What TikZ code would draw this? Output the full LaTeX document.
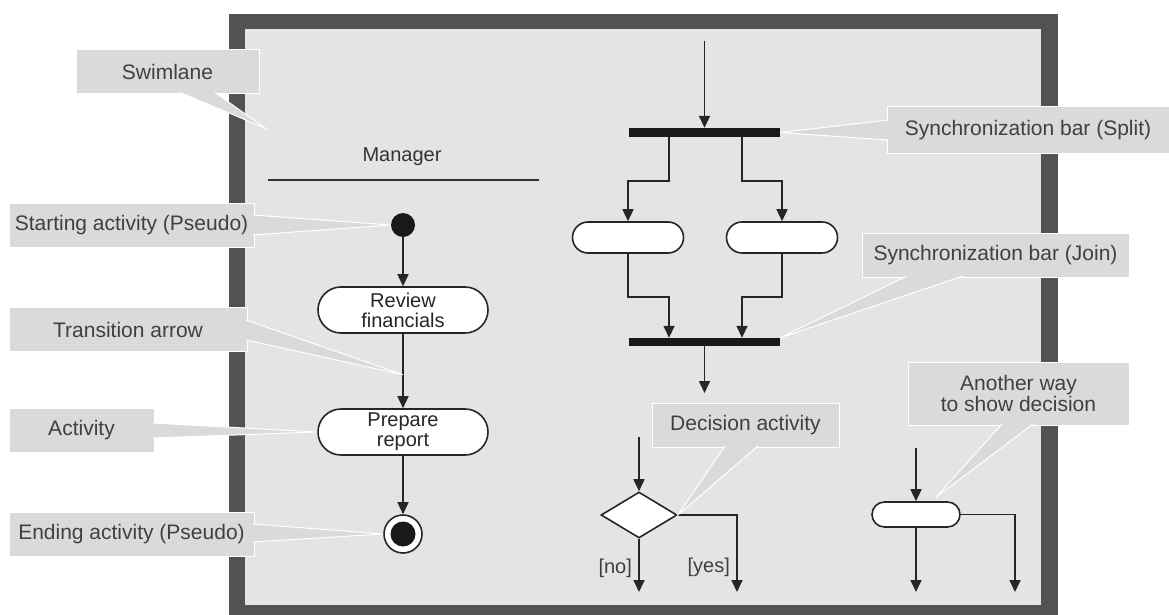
\documentclass[tikz,border=0pt]{standalone}
\usepackage{fontspec}
\setmainfont{Liberation Sans}
\usetikzlibrary{arrows.meta, shapes.misc, shapes.geometric, calc}
\definecolor{myframe}{RGB}{82,82,82}
\definecolor{mylane}{RGB}{228,228,228}
\definecolor{mycallout}{RGB}{218,218,218}
\definecolor{mylabel}{RGB}{64,64,64}
\newcommand{\heightcallout}{44pt}
\newcommand{\widthactivity}{170pt}
\newcommand{\pointer}[3]{\path[pointer] (#1) -- (#2) -- (#3);}
\tikzset{
    common/.style={draw=black!85, line width=1.6pt, fill=white},
    activity/.style={common, rounded rectangle, minimum width=\widthactivity, minimum height=46pt, align=center, inner sep=0pt, text=black!85},
    small/.style={common, rounded rectangle, inner sep=0pt},
    final/.style={
        common, circle, minimum size=38pt, inner sep=0pt,
        path picture={
            \fill[black!90] (path picture bounding box.center) circle (12.5pt);
        }
    },
    decision/.style={common, diamond, minimum width=76pt, minimum height=46pt, inner sep=0pt},
    bar/.style={fill=black!90, inner sep=0pt, minimum width=151pt, minimum height=9pt},
    flow/.style={draw=black!85, line width=1.6pt, -{Triangle[length=12pt, width=11pt]}},
    callout/.style={fill=mycallout, draw=white, line width=1pt, outer sep=0pt, text=mylabel, minimum height=\heightcallout, align=center, inner sep=0pt, font={\fontsize{21}{21}\selectfont}},
    pointer/.style={fill=mycallout, draw=white, line width=1pt}
}
\begin{document}
\begin{tikzpicture}[x=1pt, y=-1pt, font={\fontsize{20}{20}\selectfont}]
    \useasboundingbox (0,0) rectangle (1169,615);
    % swimlane frame
    \fill[myframe] (229,14) rectangle (1058,615);
    \fill[mylane] (245,29) rectangle (1041,605);
    \node[text=black!80] (manager) at (402,157) {Manager};
    \draw[black!80, line width=1.5pt] (268,180) -- (539,180);

    % manager column
    \node[circle, fill=black!90, minimum size=24pt, inner sep=0pt] (start) at (403,225) {};
    \node[activity] (review) at (403,310) {Review\\financials};
    \node[activity] (prepare) at (403,432) {Prepare\\report};
    \node[final] (end) at (403,534) {};
    \draw[flow] (start) -- (review);
    \draw[flow] (review) -- (prepare);
    \draw[flow] (prepare) -- (end);

    % split and join
    \coordinate (splitin) at (704.5,41);
    \node[bar] (split) at (704.5,132.5) {};
    \node[small, minimum width=111pt, minimum height=31pt] (left) at (628,237.5) {};
    \node[small, minimum width=111pt, minimum height=31pt] (right) at (782,237.5) {};
    \node[bar, minimum height=8pt] (join) at (704.5,342) {};
    \coordinate (joinout) at (704.5,393);
    \draw[flow] (splitin) -- (split);
    \draw[flow] ([xshift=-35.5pt]split.south) -- ++(0,44) -| (left.north);
    \draw[flow] ([xshift=37.5pt]split.south) -- ++(0,44) -| (right.north);
    \draw[flow] (left.south) -- ++(0,43) -| ([xshift=-35.5pt]join.north);
    \draw[flow] (right.south) -- ++(0,43) -| ([xshift=37.5pt]join.north);
    \draw[flow] (join) -- (joinout);

    % decision
    \coordinate (decin) at (639,437);
    \node[decision] (dec) at (639,515) {};
    \coordinate (decno) at (639,592);
    \coordinate (decyes) at (737,592);
    \draw[flow] (decin) -- (dec);
    \draw[flow] (dec) -- (decno) node[pos=0.55, left=3pt, text=mylabel] {[no]};
    \draw[flow] (dec.east) -| (decyes) node[pos=0.84, left=3pt, text=mylabel] {[yes]};

    % other decision
    \coordinate (altin) at (916,448);
    \node[small, minimum width=88pt, minimum height=25pt] (alt) at (916,514.5) {};
    \coordinate (altdown) at (916,592);
    \coordinate (altright) at (1015,592);
    \draw[flow] (altin) -- (alt);
    \draw[flow] (alt) -- (altdown);
    \draw[flow] (alt.east) -| (altright);

    % callouts
    \coordinate (lanetip) at (265,128);
    \coordinate (transtip) at ($(review.south)!0.55!(prepare.north)$);
    \node[callout, minimum width=183pt] (cswim) at (167.5,71.5) {Swimlane};
    \pointer{[shift={(104pt,1pt)}]cswim.south west}{lanetip}{[shift={(139pt,1pt)}]cswim.south west}
    \node[callout, minimum width=245pt] (cstart) at (131.5,225) {Starting activity (Pseudo)};
    \pointer{[shift={(-1pt,10pt)}]cstart.east}{start.west}{[shift={(-1pt,-10pt)}]cstart.east}
    \node[callout, minimum width=238pt] (ctrans) at (128,329.5) {Transition arrow};
    \pointer{[shift={(-1pt,9.5pt)}]ctrans.east}{transtip}{[shift={(-1pt,-10.5pt)}]ctrans.east}
    \node[callout, minimum width=145pt] (cact) at (81.5,430) {Activity};
    \pointer{[shift={(-1pt,7pt)}]cact.east}{prepare.west}{[shift={(-1pt,-8pt)}]cact.east}
    \node[callout, minimum width=245pt] (cend) at (131.5,534) {Ending activity (Pseudo)};
    \pointer{[shift={(-1pt,10pt)}]cend.east}{end.west}{[shift={(-1pt,-8pt)}]cend.east}
    \node[callout, minimum width=282pt, minimum height=46pt] (csplit) at (1028,130) {Synchronization bar (Split)};
    \pointer{[shift={(1pt,10pt)}]csplit.west}{split.east}{[shift={(1pt,-10pt)}]csplit.west}
    \node[callout, minimum width=267pt] (cjoin) at (995.5,255) {Synchronization bar (Join)};
    \pointer{[shift={(45pt,1pt)}]cjoin.south west}{join.north east}{[shift={(101pt,1pt)}]cjoin.south west}
    \node[callout, minimum width=187pt] (cdec) at (745.5,425) {Decision activity};
    \pointer{[shift={(73pt,1pt)}]cdec.south west}{dec.east}{[shift={(106pt,1pt)}]cdec.south west}
    \node[callout, minimum width=221pt, minimum height=63pt, font={\fontsize{21}{18}\selectfont}] (calt) at (1018.5,393.5) {Another way\\to show decision};
    \pointer{[shift={(94pt,1pt)}]calt.south west}{[shift={(20pt,4pt)}]alt.north}{[shift={(125pt,1pt)}]calt.south west}
\end{tikzpicture}
\end{document}
